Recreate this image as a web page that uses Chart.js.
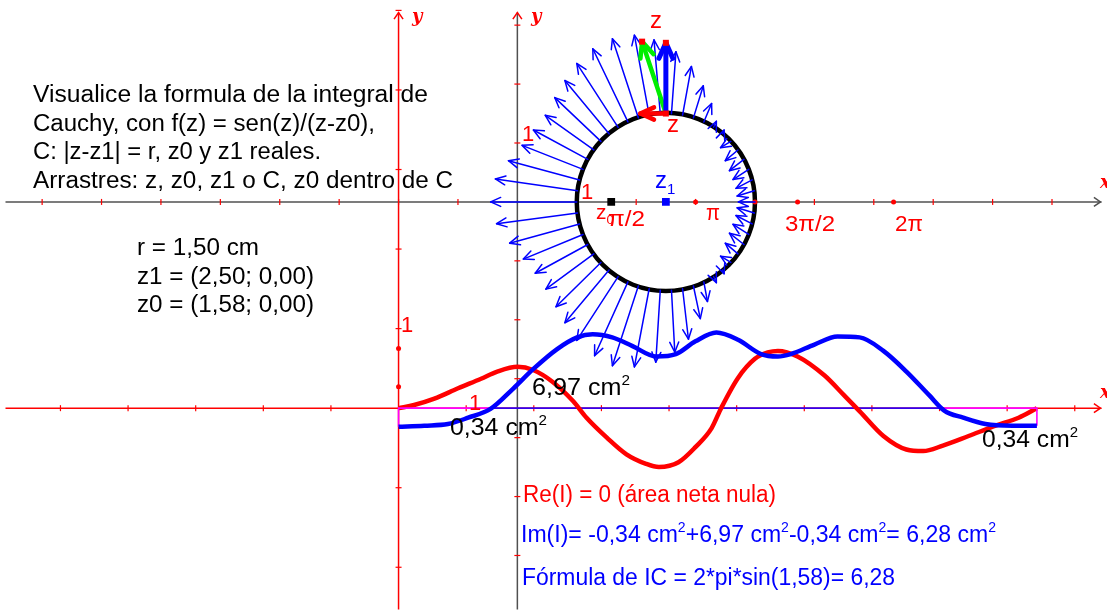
<!DOCTYPE html>
<html>
<head>
<meta charset="utf-8">
<script src="https://cdn.jsdelivr.net/npm/chart.js@4.4.0/dist/chart.umd.min.js"></script>
<style>
    html, body { margin: 0; padding: 0; background: #fff; }
    #wrap { width: 1107px; height: 615px; position: relative; }
</style>
</head>
<body>
<div id="wrap"><canvas id="chart1"></canvas></div>
<script>
// Upper plane (circle C), in units of the upper grid
const z1 = [2.5, 0];
const radius = 1.5;
const z0 = [1.58, 0];
const zPoint = [2.5, 1.5];
const axisDotsX = [3.0, 4.0, 4.717, 6.333];

// Field arrows along C: angle of the base point on C (degrees) and arrow tip
const arrowAngle = [180, 172.8, 165.6, 158.4, 151.2, 144, 136.8, 129.6, 122.4, 115.2,
    108, 100.8, 93.6, 86.4, 79.2, 72, 64.8, 57.6, 50.4, 43.2,
    36, 28.8, 21.6, 14.4, 7.2, 0, -7.2, -14.4, -21.6, -28.8,
    -36, -43.2, -50.4, -57.6, -64.8, -72, -79.2, -86.4, -93.6, -100.8,
    -108, -115.2, -122.4, -129.6, -136.8, -144, -151.2, -158.4, -165.6, -172.8];
const arrowTipX = [-0.45, -0.37, -0.15, 0.08, 0.27, 0.47, 0.63, 0.80, 1.00, 1.27,
    1.60, 1.97, 2.30, 2.67, 2.93, 3.13, 3.27, 3.35, 3.48, 3.42,
    3.50, 3.57, 3.63, 3.68, 3.70, 3.72, 3.70, 3.68, 3.63, 3.57,
    3.50, 3.42, 3.48, 3.35, 3.20, 3.08, 2.88, 2.65, 2.33, 1.97,
    1.60, 1.30, 1.00, 0.80, 0.65, 0.48, 0.30, 0.10, -0.13, -0.35];
const arrowTipY = [0, 0.39, 0.70, 0.96, 1.22, 1.47, 1.77, 2.06, 2.35, 2.60,
    2.77, 2.83, 2.75, 2.55, 2.30, 1.97, 1.67, 1.37, 1.22, 0.92,
    0.70, 0.53, 0.38, 0.23, 0.10, 0, -0.10, -0.23, -0.38, -0.53,
    -0.70, -0.92, -1.22, -1.37, -1.69, -1.98, -2.33, -2.55, -2.72, -2.80,
    -2.78, -2.61, -2.35, -2.05, -1.78, -1.48, -1.21, -0.97, -0.70, -0.37];

// Vectors drawn at z
const greenTip = [2.1, 2.72];
const blueTip = [2.5, 2.7];
const redTip = [2.07, 1.5];

// Lower plane: real (red) and imaginary (blue) parts of the integrand
const reX = [0, 0.23, 0.53, 0.88, 1.22, 1.46, 1.76, 1.99, 2.28, 2.58, 2.78, 3.08, 3.37, 3.66, 3.85,
    4.14, 4.39, 4.63, 4.77, 5.02, 5.27, 5.46, 5.61, 5.90, 6.30, 6.59, 6.82, 7.17, 7.51, 7.76,
    8.05, 8.43, 8.83, 9.17, 9.44];
const reY = [0, 0.04, 0.12, 0.25, 0.37, 0.46, 0.52, 0.48, 0.33, 0.09, -0.12, -0.37, -0.58, -0.70, -0.74,
    -0.68, -0.49, -0.25, 0, 0.38, 0.62, 0.70, 0.72, 0.65, 0.41, 0.16, -0.04, -0.35, -0.52, -0.54,
    -0.47, -0.35, -0.22, -0.12, 0];
const imX = [0, 0.38, 0.73, 1.03, 1.36, 1.70, 1.99, 2.34, 2.64, 2.87, 3.16, 3.46, 3.81, 4.10, 4.39,
    4.70, 5.02, 5.36, 5.61, 5.80, 6.15, 6.49, 6.82, 7.17, 7.51, 7.85, 8.07, 8.35, 8.68, 9.08, 9.44];
const imY = [-0.235, -0.22, -0.20, -0.12, -0.01, 0.25, 0.49, 0.74, 0.89, 0.93, 0.89, 0.78, 0.65, 0.68, 0.84,
    0.95, 0.86, 0.68, 0.65, 0.68, 0.80, 0.90, 0.89, 0.72, 0.46, 0.16, -0.03, -0.12, -0.20, -0.22, -0.22];
const lowerDotsY = [0.75, 0.27];
const negLeft = [0, 1.36, -0.235];     // t start, zero crossing, value at start
const negRight = [8.07, 9.44, -0.222]; // zero crossing, t end, value at end

// Tick values
const upperTicksX = [-8, -7, -6, -5, -4, -3, -2, -1, 1, 2, 3, 4, 5, 6, 7, 8, 9];
const upperTicksY = [-6, -5, -4, -3, -2, -1, 1, 2, 3];
const lowerTicksX = [-5, -4, -3, -2, -1, 1, 2, 3, 4, 5, 6, 7, 8, 9, 10];
const lowerTicksY = [-2, -1, 1, 2, 3, 4, 5];

const RED = '#ff0000';
const BLUE = '#0000ff';
const GRAY = '#505050';
const FONT = '"Liberation Sans", Arial, sans-serif';

function pts(xs, ys) {
    return xs.map((x, i) => ({ x: x, y: ys[i] }));
}

function seg(ctx, x0, y0, x1, y1) {
    ctx.beginPath();
    ctx.moveTo(x0, y0);
    ctx.lineTo(x1, y1);
    ctx.stroke();
}

function head(ctx, x0, y0, x1, y1, len, spread) {
    const a = Math.atan2(y1 - y0, x1 - x0);
    ctx.beginPath();
    ctx.moveTo(x1 - len * Math.cos(a - spread), y1 - len * Math.sin(a - spread));
    ctx.lineTo(x1, y1);
    ctx.lineTo(x1 - len * Math.cos(a + spread), y1 - len * Math.sin(a + spread));
    ctx.stroke();
}

function arrow(ctx, x0, y0, x1, y1, color, lw, len) {
    ctx.strokeStyle = color;
    ctx.lineWidth = lw;
    seg(ctx, x0, y0, x1, y1);
    head(ctx, x0, y0, x1, y1, len, 0.42);
}

// text with optional superscripts / subscripts, stretched to a given width
function rich(ctx, parts, x, y, color, size, width) {
    ctx.save();
    ctx.fillStyle = color;
    ctx.textBaseline = 'alphabetic';
    const list = parts.map(p => typeof p === 'string' ? { t: p } : p);
    const fontOf = p => ((p.sup || p.sub) ? Math.round(size * 0.62) : size) + 'px ' + FONT;
    let total = 0;
    list.forEach(p => { ctx.font = fontOf(p); total += ctx.measureText(p.t).width; });
    const k = width ? width / total : 1;
    ctx.translate(x, y);
    ctx.scale(k, 1);
    let cx = 0;
    list.forEach(p => {
        ctx.font = fontOf(p);
        const dy = p.sup ? -size * 0.43 : (p.sub ? size * 0.26 : 0);
        ctx.fillText(p.t, cx, dy);
        cx += ctx.measureText(p.t).width;
    });
    ctx.restore();
}

const axesPlugin = {
    id: 'axes',
    beforeDatasetsDraw(chart) {
        const ctx = chart.ctx, a = chart.chartArea;
        const sx = chart.scales.x, sy = chart.scales.y;
        const lx = chart.scales.x2, ly = chart.scales.y2;
        ctx.save();

        // lower axes (red)
        const lox = lx.getPixelForValue(0), loy = ly.getPixelForValue(0);
        ctx.strokeStyle = RED;
        ctx.lineWidth = 1.5;
        seg(ctx, a.left, loy, a.right, loy);
        seg(ctx, lox, a.top + 7, lox, a.bottom);
        head(ctx, a.left, loy, a.right - 1, loy, 8, 0.6);
        head(ctx, lox, a.bottom, lox, a.top + 7, 8, 0.6);
        ctx.lineWidth = 1.2;
        lowerTicksX.forEach(v => { const p = lx.getPixelForValue(v); seg(ctx, p, loy - 3, p, loy + 3); });
        lowerTicksY.forEach(v => { const p = ly.getPixelForValue(v); seg(ctx, lox - 3, p, lox + 3, p); });

        // upper axes (gray, red ticks)
        const ox = sx.getPixelForValue(0), oy = sy.getPixelForValue(0);
        ctx.strokeStyle = GRAY;
        ctx.lineWidth = 1.5;
        seg(ctx, a.left, oy, a.right, oy);
        seg(ctx, ox, a.top + 7, ox, a.bottom);
        head(ctx, a.left, oy, a.right - 1, oy, 8, 0.6);
        ctx.strokeStyle = RED;
        head(ctx, ox, a.bottom, ox, a.top + 7, 8, 0.6);
        ctx.lineWidth = 1.2;
        upperTicksX.forEach(v => { const p = sx.getPixelForValue(v); seg(ctx, p, oy - 3, p, oy + 3); });
        upperTicksY.forEach(v => { const p = sy.getPixelForValue(v); seg(ctx, ox - 3, p, ox + 3, p); });

        // circle C
        const cx = sx.getPixelForValue(z1[0]), cy = sy.getPixelForValue(z1[1]);
        const rp = sx.getPixelForValue(z1[0] + radius) - cx;
        ctx.strokeStyle = '#000';
        ctx.lineWidth = 4.5;
        ctx.beginPath();
        ctx.arc(cx, cy, rp, 0, Math.PI * 2);
        ctx.stroke();
        ctx.restore();
    },
    afterDatasetsDraw(chart) {
        const ctx = chart.ctx;
        const sx = chart.scales.x, sy = chart.scales.y;
        ctx.save();
        ctx.lineCap = 'round';
        ctx.lineJoin = 'round';

        // field arrows along C
        arrowAngle.forEach((deg, i) => {
            const t = deg * Math.PI / 180;
            const bx = sx.getPixelForValue(z1[0] + radius * Math.cos(t));
            const by = sy.getPixelForValue(z1[1] + radius * Math.sin(t));
            const tx = sx.getPixelForValue(arrowTipX[i]);
            const ty = sy.getPixelForValue(arrowTipY[i]);
            arrow(ctx, bx, by, tx, ty, BLUE, 1.5, 11);
        });

        // vectors at z
        const zx = sx.getPixelForValue(zPoint[0]), zy = sy.getPixelForValue(zPoint[1]);
        const gx = sx.getPixelForValue(greenTip[0]), gy = sy.getPixelForValue(greenTip[1]);
        const bx = sx.getPixelForValue(blueTip[0]), by = sy.getPixelForValue(blueTip[1]);
        const rx = sx.getPixelForValue(redTip[0]), ry = sy.getPixelForValue(redTip[1]);
        arrow(ctx, zx, zy, gx, gy, '#00ee00', 4.5, 17);
        arrow(ctx, zx, zy, bx, by, BLUE, 5, 17);
        arrow(ctx, zx, zy, rx, ry, RED, 4.5, 15);
        ctx.fillStyle = RED;
        [[zx, zy], [gx, gy], [bx, by]].forEach(p => ctx.fillRect(p[0] - 3, p[1] - 3, 6, 6));
        ctx.restore();
    },
    afterDraw(chart) {
        const ctx = chart.ctx;
        // description
        const info = ['Visualice la formula de la integral de',
            'Cauchy, con f(z) = sen(z)/(z-z0),',
            'C: |z-z1| = r, z0 y z1 reales.',
            'Arrastres: z, z0, z1 o C, z0 dentro de C'];
        const infoW = [395, 342, 288, 420];
        const infoY = [101.5, 130.5, 159, 187.5];
        info.forEach((s, i) => rich(ctx, [s], 33, infoY[i], '#000', 23, infoW[i]));
        rich(ctx, ['r = 1,50 cm'], 137, 255, '#000', 23, 122);
        rich(ctx, ['z1 = (2,50; 0,00)'], 137, 284, '#000', 23, 177);
        rich(ctx, ['z0 = (1,58; 0,00)'], 137, 312, '#000', 23, 177);

        // areas
        rich(ctx, ['6,97 cm', { t: '2', sup: true }], 532, 395, '#000', 23, 98);
        rich(ctx, ['0,34 cm', { t: '2', sup: true }], 450, 435, '#000', 23, 97);
        rich(ctx, ['0,34 cm', { t: '2', sup: true }], 982, 446.5, '#000', 23, 96);

        // results
        rich(ctx, ['Re(I) = 0 (área neta nula)'], 523, 502, RED, 23, 253);
        rich(ctx, ['Im(I)= -0,34 cm', { t: '2', sup: true }, '+6,97 cm', { t: '2', sup: true },
            '-0,34 cm', { t: '2', sup: true }, '= 6,28 cm', { t: '2', sup: true }], 521, 541.5, BLUE, 23, 475);
        rich(ctx, ['Fórmula de IC = 2*pi*sin(1,58)= 6,28'], 522, 585, BLUE, 23, 373);

        // axis labels
        rich(ctx, ['1'], 581, 199, RED, 22);
        rich(ctx, ['1'], 522, 141, RED, 22);
        rich(ctx, ['1'], 469, 410, RED, 22);
        rich(ctx, ['1'], 401, 332, RED, 22);
        rich(ctx, ['π/2'], 608, 226, RED, 22, 37);
        rich(ctx, ['π'], 706, 220, RED, 22, 14);
        rich(ctx, ['3π/2'], 785, 231, RED, 22, 50);
        rich(ctx, ['2π'], 895, 231, RED, 22, 28);

        // point labels
        rich(ctx, ['z'], 650, 28, RED, 24);
        rich(ctx, ['z'], 667, 132, RED, 24);
        rich(ctx, ['z', { t: '1', sub: true }], 655, 188, BLUE, 24);
        rich(ctx, ['z', { t: '0', sub: true }], 596, 219, RED, 21);

        // axis names
        ctx.save();
        ctx.fillStyle = RED;
        ctx.font = 'italic bold 18px "DejaVu Serif", serif';
        ctx.fillText('y', 412, 22);
        ctx.fillText('y', 531, 22);
        ctx.fillText('x', 1100, 188);
        ctx.fillText('x', 1100, 398);
        ctx.restore();
    }
};

document.addEventListener('DOMContentLoaded', function() {
    const ctx = document.getElementById('chart1').getContext('2d');
    const lower = { xAxisID: 'x2', yAxisID: 'y2' };
    const chart = new Chart(ctx, {
        type: 'scatter',
        data: {
            datasets: [
                { data: [{ x: z0[0], y: z0[1] }], pointStyle: 'rect', pointRadius: 5.5,
                  backgroundColor: '#000', borderWidth: 0 },
                { data: [{ x: z1[0], y: z1[1] }], pointStyle: 'rect', pointRadius: 5.5,
                  backgroundColor: BLUE, borderWidth: 0 },
                { data: axisDotsX.map(x => ({ x: x, y: 0 })), pointRadius: 2.5,
                  backgroundColor: RED, borderWidth: 0 },
                Object.assign({ data: lowerDotsY.map(y => ({ x: 0, y: y })), pointRadius: 2.5,
                  backgroundColor: RED, borderWidth: 0 }, lower),
                Object.assign({ data: pts(imX, imY), showLine: true, borderColor: BLUE, borderWidth: 4.5,
                  pointRadius: 0, cubicInterpolationMode: 'monotone' }, lower),
                Object.assign({ data: [{ x: negLeft[1], y: 0 }, { x: negLeft[0], y: 0 }, { x: negLeft[0], y: negLeft[2] }],
                  showLine: true, borderColor: '#ff00ff', borderWidth: 1.6, pointRadius: 0 }, lower),
                Object.assign({ data: [{ x: negRight[0], y: 0 }, { x: negRight[1], y: 0 }, { x: negRight[1], y: negRight[2] }],
                  showLine: true, borderColor: '#ff00ff', borderWidth: 1.6, pointRadius: 0 }, lower),
                Object.assign({ data: pts(reX, reY), showLine: true, borderColor: RED, borderWidth: 4.5,
                  pointRadius: 0, cubicInterpolationMode: 'monotone' }, lower),
                Object.assign({ data: [{ x: negLeft[1], y: 0 }, { x: negRight[0], y: 0 }],
                  showLine: true, borderColor: '#3300ee', borderWidth: 1.6, pointRadius: 0 }, lower)
            ]
        },
        options: {
            responsive: true,
            maintainAspectRatio: false,
            animation: false,
            events: [],
            layout: { padding: 0 },
            plugins: { legend: { display: false }, tooltip: { enabled: false } },
            scales: {
                x: { type: 'linear', position: 'bottom', display: false, min: -8.6167, max: 9.8333 },
                y: { type: 'linear', position: 'left', display: false, min: -6.9167, max: 3.3333 },
                x2: { type: 'linear', axis: 'x', position: 'top', display: false, min: -5.8126, max: 10.3953 },
                y2: { type: 'linear', axis: 'y', position: 'right', display: false, min: -2.5309, max: 5.0617 }
            }
        },
        plugins: [axesPlugin]
    });
});
</script>
</body>
</html>
